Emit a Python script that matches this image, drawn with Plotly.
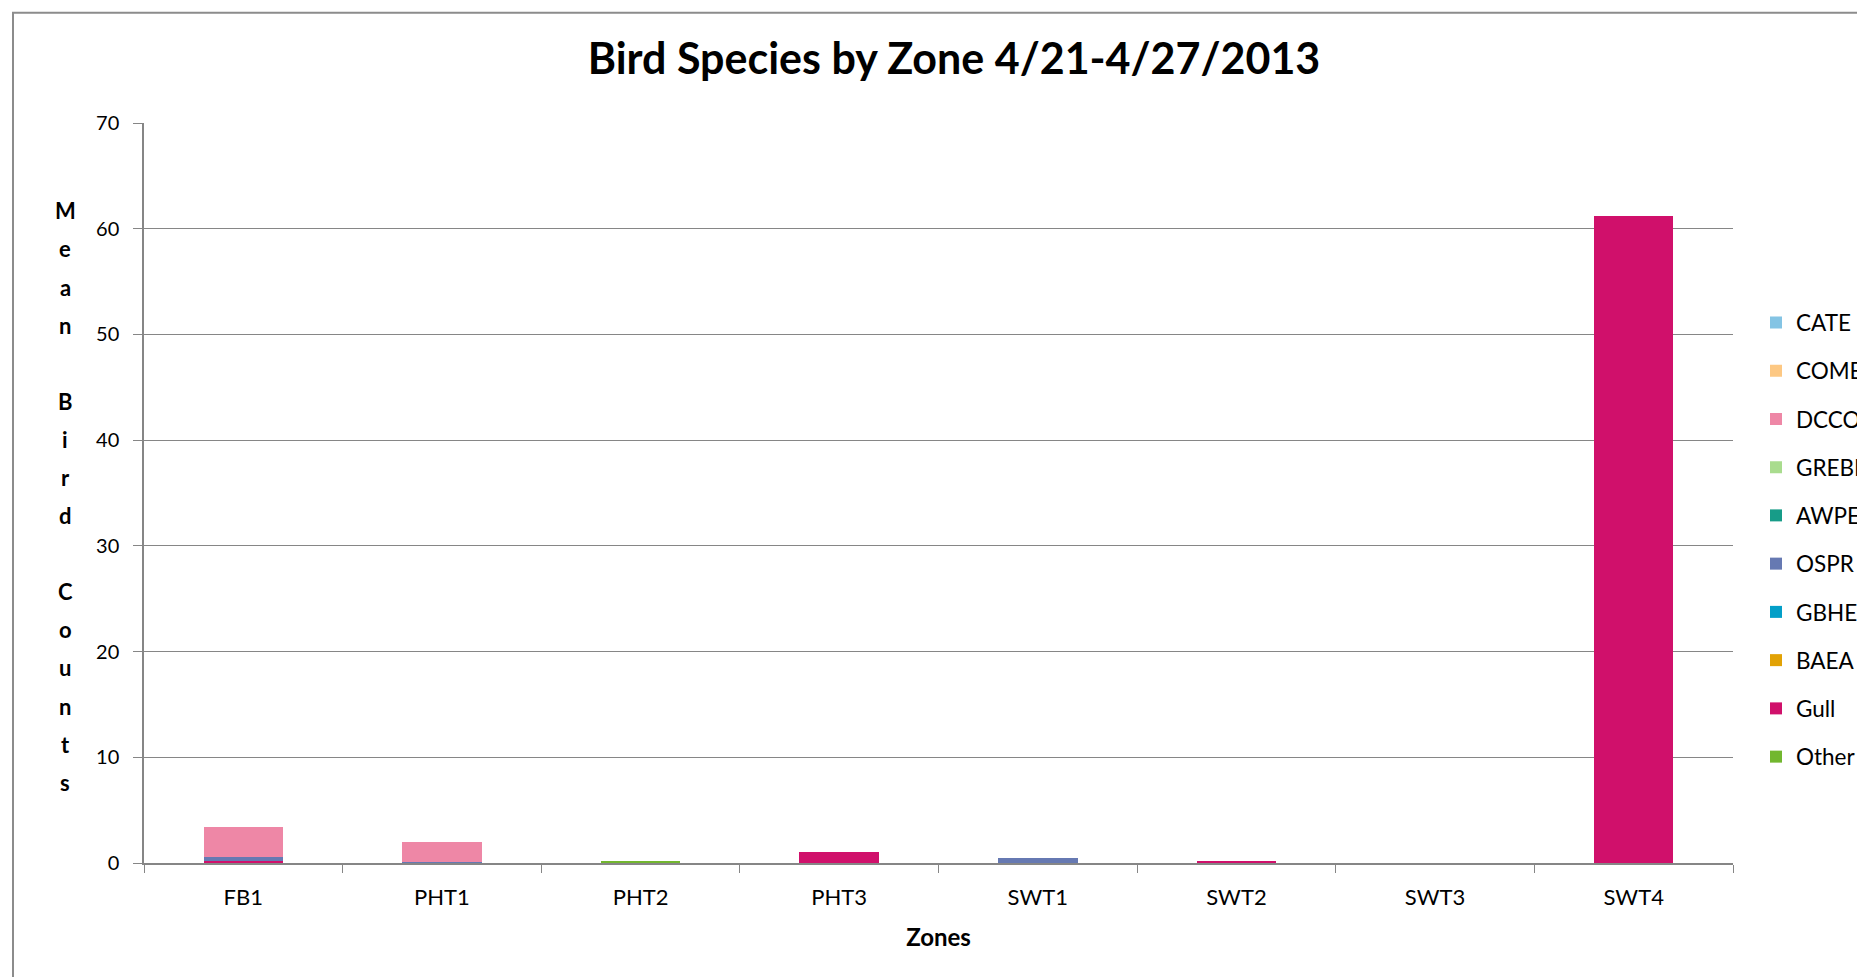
import plotly.graph_objects as go

zones = ["FB1", "PHT1", "PHT2", "PHT3", "SWT1", "SWT2", "SWT3", "SWT4"]

# Series in stacking order (bottom -> top); legend lists them top -> bottom reversed
other = [0, 0, 0.2, 0, 0, 0, 0, 0]
gull = [0.15, 0, 0, 1.05, 0, 0.2, 0, 61.2]
baea = [0, 0, 0, 0, 0, 0, 0, 0]
gbhe = [0, 0, 0, 0, 0, 0, 0, 0]
ospr = [0.45, 0.05, 0, 0, 0.45, 0, 0, 0]
awpe = [0, 0, 0, 0, 0, 0, 0, 0]
grebe = [0, 0, 0, 0, 0, 0, 0, 0]
dcco = [2.8, 1.95, 0, 0, 0, 0, 0, 0]
come = [0, 0, 0, 0, 0, 0, 0, 0]
cate = [0, 0, 0, 0, 0, 0, 0, 0]

series = [
    ("Other", other, "#72B72F"),
    ("Gull", gull, "#D0106B"),
    ("BAEA", baea, "#E2A205"),
    ("GBHE", gbhe, "#039FC8"),
    ("OSPR", ospr, "#6679B2"),
    ("AWPE", awpe, "#179C88"),
    ("GREBE", grebe, "#A9DC8E"),
    ("DCCO", dcco, "#EE87A6"),
    ("COME", come, "#FDC883"),
    ("CATE", cate, "#84C4E4"),
]

FONT = "Lato"
OFF = 8  # default page body margin
W, H = 1865 - OFF, 977 - OFF
# plot area in screen pixels
L, R, T, B = 144, 1733, 122.5, 863.5
pw, ph = R - L, B - T


def px_x(x):
    return (x - L) / pw


def px_y(y):
    return (B - y) / ph


fig = go.Figure()
n = len(series)
for i, (name, vals, col) in enumerate(series):
    fig.add_trace(go.Bar(
        x=zones, y=vals, name=name, legendgroup=name, legendrank=n - i,
        marker=dict(color=col, line=dict(width=0)),
    ))

fig.update_layout(
    width=W, height=H,
    barmode="stack", bargap=0.6,
    plot_bgcolor="white", paper_bgcolor="white",
    margin=dict(l=L - OFF, r=(W + OFF) - R, t=T - OFF, b=(H + OFF) - B, autoexpand=False),
    font=dict(family=FONT, size=20, color="#000000"),
    title=dict(text="<b>Bird Species by Zone 4/21-4/27/2013</b>",
               x=(954 - OFF) / W, xanchor="center", y=1 - (59 - OFF) / H, yanchor="middle",
               font=dict(family=FONT, size=43, color="#000000")),
    showlegend=True,
    legend=dict(
        x=px_x(1756), xanchor="left", y=px_y(301), yanchor="top",
        traceorder="grouped", tracegroupgap=16,
        font=dict(family=FONT, size=22.5, color="#000000"),
        bgcolor="rgba(0,0,0,0)", itemclick=False,
    ),
    xaxis=dict(
        type="category", tickson="boundaries", ticks="outside", ticklen=8,
        tickcolor="#868686", showline=True, linecolor="#868686", linewidth=1.5,
        showgrid=False, ticklabelstandoff=14,
        title=dict(text="<b>Zones</b>", font=dict(family=FONT, size=24), standoff=20),
        tickfont=dict(family=FONT, size=22),
    ),
    yaxis=dict(
        range=[0, 70], dtick=10, ticks="outside", ticklen=9, tickcolor="#868686",
        showline=True, linecolor="#868686", linewidth=1.5, ticklabelstandoff=10,
        showgrid=True, gridcolor="#868686", gridwidth=1,
        zeroline=False, tickfont=dict(family=FONT, size=20),
    ),
)

# Stacked vertical y-axis title (Excel style)
ytitle = "Mean Bird Counts"
y0_px, step_px = 210.5, 38.14
for i, ch in enumerate(ytitle):
    if ch == " ":
        continue
    ypx = y0_px + i * step_px
    fig.add_annotation(
        text=f"<b>{ch}</b>", xref="paper", yref="paper",
        x=px_x(65.4), y=px_y(ypx), xanchor="center", yanchor="middle",
        showarrow=False, font=dict(family=FONT, size=22, color="#000000"),
    )

# Chart area border (partially cropped, as in the reference)
fig.add_shape(
    type="rect", xref="paper", yref="paper",
    x0=px_x(13), x1=px_x(1865 + 30),
    y0=px_y(977 + 30), y1=px_y(12),
    line=dict(color="#8C8C8C", width=2), fillcolor="rgba(0,0,0,0)", layer="below",
)

fig.write_html("out.html")
